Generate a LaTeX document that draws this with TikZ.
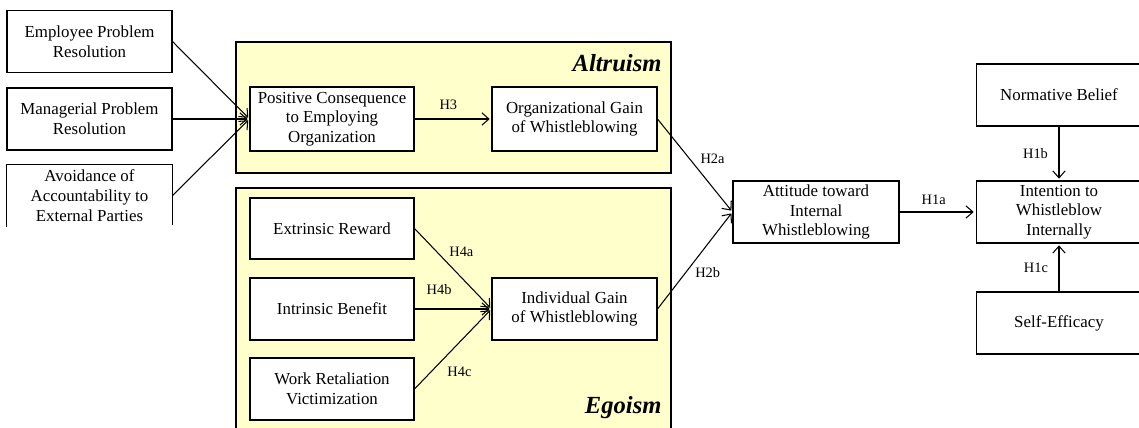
\documentclass[tikz,border=0pt]{standalone}
\usepackage{fontspec}
\setmainfont{Liberation Serif}
\usepackage[dvipsnames]{xcolor}
\usepackage{tikz}
\usetikzlibrary{arrows.meta}
\definecolor{panelyellow}{RGB}{255,255,204}

\begin{document}
\begin{tikzpicture}[x=0.02cm, y=-0.02cm, shorten >=1pt, ->, >={Straight Barb[length=4pt,width=7pt]}, line width=0.6pt]
  \tikzstyle{construct}=[rectangle, draw, fill=white, -, minimum width=3.3cm, minimum height=1.24cm, align=center, inner sep=1pt, font=\fontsize{9.6}{11.2}\selectfont]
  \tikzstyle{hyp}=[font=\fontsize{8.2}{9}\selectfont, inner sep=2pt]
  \tikzstyle{grouppanel}=[draw, -, fill=panelyellow]
  \tikzstyle{paneltitle}=[font=\fontsize{14}{16}\selectfont\bfseries\itshape, inner sep=0pt]
  \useasboundingbox (0,0) rectangle (1139,428);
  \draw[grouppanel] (236,42) rectangle (671,173);
  \draw[grouppanel] (236,188) rectangle (671,450);
  \node[paneltitle, anchor=east] (T_1) at (662,63) {Altruism};
  \node[paneltitle, anchor=east] (T_2) at (662,408) {Egoism};
  \node[construct] (L_1) at (89.5,41.5) {Employee Problem\\Resolution};
  \node[construct] (L_2) at (89.5,119) {Managerial Problem\\Resolution};
  \node[construct, draw=none, fill=none, minimum height=1.22cm] (L_3) at (89.5,195.5) {Avoidance of\\Accountability to\\External Parties};
  \draw[-] (L_3.south west) -- (L_3.north west) -- (L_3.north east) -- (L_3.south east);
  \node[construct, minimum width=3.28cm, minimum height=1.28cm] (A_1) at (332,119) {Positive Consequence\\to Employing\\Organization};
  \node[construct, minimum height=1.28cm] (A_2) at (574.5,119) {Organizational Gain\\of Whistleblowing};
  \node[construct, minimum width=3.28cm, minimum height=1.22cm] (E_1) at (332,228.5) {Extrinsic Reward};
  \node[construct, minimum width=3.28cm] (E_2) at (332,309) {Intrinsic Benefit};
  \node[construct, minimum width=3.28cm] (E_3) at (332,389) {Work Retaliation\\Victimization};
  \node[construct] (E_4) at (574.5,309) {Individual Gain\\of Whistleblowing};
  \node[construct, minimum width=3.32cm] (W_1) at (816,212) {Attitude toward\\Internal\\Whistleblowing};
  \node[construct, minimum width=3.32cm] (W_2) at (1059,212) {Intention to\\Whistleblow\\Internally};
  \node[construct, minimum width=3.32cm] (W_3) at (1059,95) {Normative Belief};
  \node[construct, minimum width=3.32cm] (W_4) at (1059,323) {Self-Efficacy};
  \draw (L_1.east) -- (A_1.west);
  \draw (L_2.east) -- (A_1.west);
  \draw (L_3.east) -- (A_1.west);
  \draw (A_1) -- node[hyp, pos=0.44, above=3pt] {H3} (A_2);
  \draw (E_1.east) -- node[hyp, pos=0.4, above right] {H4a} (E_4.west);
  \draw (E_2.east) -- node[hyp, pos=0.32, above=6pt] {H4b} (E_4.west);
  \draw (E_3.east) -- node[hyp, pos=0.33, below right, xshift=2pt] {H4c} (E_4.west);
  \draw (A_2.east) -- node[hyp, pos=0.52, above right] {H2a} (W_1.west);
  \draw (E_4.east) -- node[hyp, pos=0.38, right=3pt] {H2b} (W_1.west);
  \draw (W_1) -- node[hyp, pos=0.45, above=2pt] {H1a} (W_2);
  \draw (W_3) -- node[hyp, left=4pt] {H1b} (W_2);
  \draw (W_4) -- node[hyp, left=4pt] {H1c} (W_2);
\end{tikzpicture}
\end{document}
